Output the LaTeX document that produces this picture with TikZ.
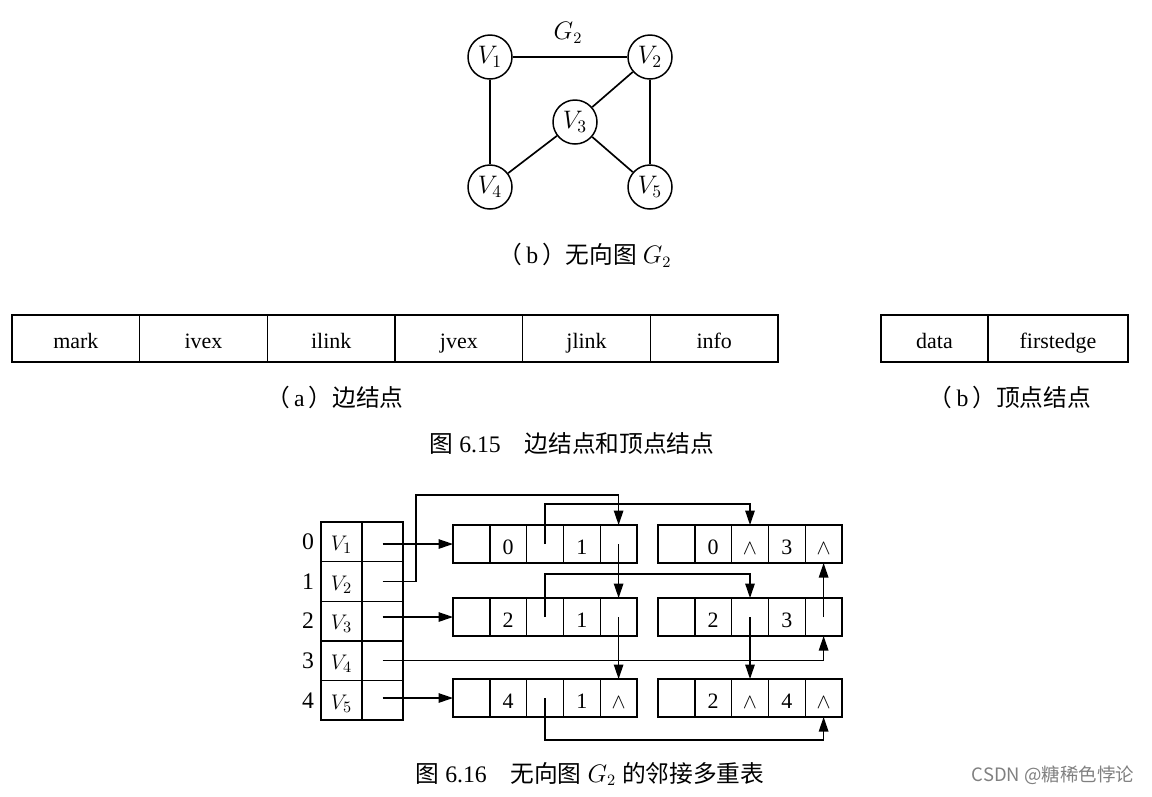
\documentclass[tikz,border=0pt]{standalone}
\usepackage{fontspec}
\setmainfont{Liberation Serif}
\newfontfamily\cjk{Noto Sans CJK SC}
\usetikzlibrary{arrows.meta,positioning,calc}

\begin{document}
\begin{tikzpicture}[x=0.02cm, y=-0.02cm,
  vert/.style={draw, circle, line width=0.85pt, minimum size=0.88cm,
    inner sep=0pt, font=\fontsize{14}{14}\selectfont},
  gline/.style={line width=0.95pt},
  field/.style={draw, line width=0.8pt, minimum height=0.94cm,
    inner sep=0pt, outer sep=0pt, text height=11pt, text depth=0pt,
    font=\fontsize{12.5}{13}\selectfont},
  cell/.style={draw, line width=0.8pt, minimum width=0.736cm,
    minimum height=0.76cm, inner sep=0pt, outer sep=0pt,
    text height=11.5pt, text depth=0pt, font=\fontsize{12.5}{12}\selectfont},
  vcell/.style={cell, minimum width=0.82cm, minimum height=0.792cm,
    text height=10pt, text depth=0pt},
  captxt/.style={font=\fontsize{13.5}{14}\selectfont},
  ptr/.style={-{Triangle[length=2.9mm,width=1.9mm]}, line width=0.8pt}
]
\useasboundingbox (0,0) rectangle (1152,796);

% undirected graph G2
\node[vert] (g1) at (490,57) {$V_1$};
\node[vert] (g2) at (650,57) {$V_2$};
\node[vert] (g3) at (575,122) {$V_3$};
\node[vert] (g4) at (490,187) {$V_4$};
\node[vert] (g5) at (650,187) {$V_5$};
\node[captxt] (gname) at (568,33) {$G_2$};
\draw[gline] (g1) -- (g2);
\draw[gline] (g1) -- (g4);
\draw[gline] (g2) -- (g3);
\draw[gline] (g2) -- (g5);
\draw[gline] (g3) -- (g4);
\draw[gline] (g3) -- (g5);
\node[captxt] (capg) at (585,255) {{\cjk （}\,b\,{\cjk ）无向图} $G_2$};

% edge node and vertex node layouts
\foreach \i/\t in {1/mark,2/ivex,3/ilink,4/jvex,5/jlink,6/info}
  \node[field, minimum width=2.553cm] (ef\i) at (12+127.67*\i-63.83,338.5) {\t};
\node[field, minimum width=2.14cm] (vdata) at (934.5,338.5) {data};
\node[field, minimum width=2.8cm] (vfirst) at (1058,338.5) {firstedge};
\node[captxt] (capa) at (335,397) {{\cjk （}\,a\,{\cjk ）边结点}};
\node[captxt] (capb) at (1010,397) {{\cjk （}\,b\,{\cjk ）顶点结点}};
\node[captxt] (fig15) at (572,443) {{\cjk 图} 6.15\quad{\cjk 边结点和顶点结点}};

% vertex table
\foreach \i [evaluate=\i as \k using int(\i-1)] in {1,...,5} {
  \node[vcell] (v\i-d) at (341.5,502.2+39.6*\i) {$V_{\i}$};
  \node[vcell] (v\i-f) at (382.5,502.2+39.6*\i) {};
  \node[captxt] (idx\i) at (308,502.2+39.6*\i) {\k};
}

% edge nodes
\foreach \nm/\xl/\yc/\iv/\il/\jv/\jl in {
  e01/453/544/0/{}/1/{},
  e03/658/544/0/{$\wedge$}/3/{$\wedge$},
  e21/453/617/2/{}/1/{},
  e23/658/617/2/{}/3/{},
  e41/453/698/4/{}/1/{$\wedge$},
  e24/658/698/2/{$\wedge$}/4/{$\wedge$}} {
  \node[cell] (\nm-1) at (\xl+18.4,\yc) {};
  \node[cell] (\nm-2) at (\xl+55.2,\yc) {\iv};
  \node[cell] (\nm-3) at (\xl+92,\yc) {\il};
  \node[cell] (\nm-4) at (\xl+128.8,\yc) {\jv};
  \node[cell] (\nm-5) at (\xl+165.6,\yc) {\jl};
}

% pointers
\coordinate (v2turn) at (416,495);
\draw[ptr] (v1-f.center |- e01-1) -- (e01-1.west);
\draw[ptr] (v2-f.center) -| (v2turn) -| (e01-5.north);
\draw[ptr] (v3-f.center |- e21-1) -- (e21-1.west);
\draw[ptr] (v4-f.center) -| (e23-5.south);
\draw[ptr] (v5-f.center |- e41-1) -- (e41-1.west);
\draw[ptr] (e01-3.center) -- ++(0,-40) -| (e03-3.north);
\draw[ptr] (e01-5.center) -- (e21-5.north);
\draw[ptr] (e21-3.center) -- ++(0,-43) -| (e23-3.north);
\draw[ptr] (e21-5.center) -- (e41-5.north);
\draw[ptr] (e23-3.center) -- (e24-3.north);
\draw[ptr] (e23-5.center) -- (e03-5.south);
\draw[ptr] (e41-3.center) -- ++(0,42) -| (e24-5.south);

\node[captxt] (fig16) at (590,774) {{\cjk 图} 6.16\quad{\cjk 无向图} $G_2$ {\cjk 的邻接多重表}};
\node[font=\fontsize{10.5}{11}\selectfont, text=gray] (wmark) at (1053,775) {\cjk CSDN @糖稀色悖论};
\end{tikzpicture}
\end{document}
